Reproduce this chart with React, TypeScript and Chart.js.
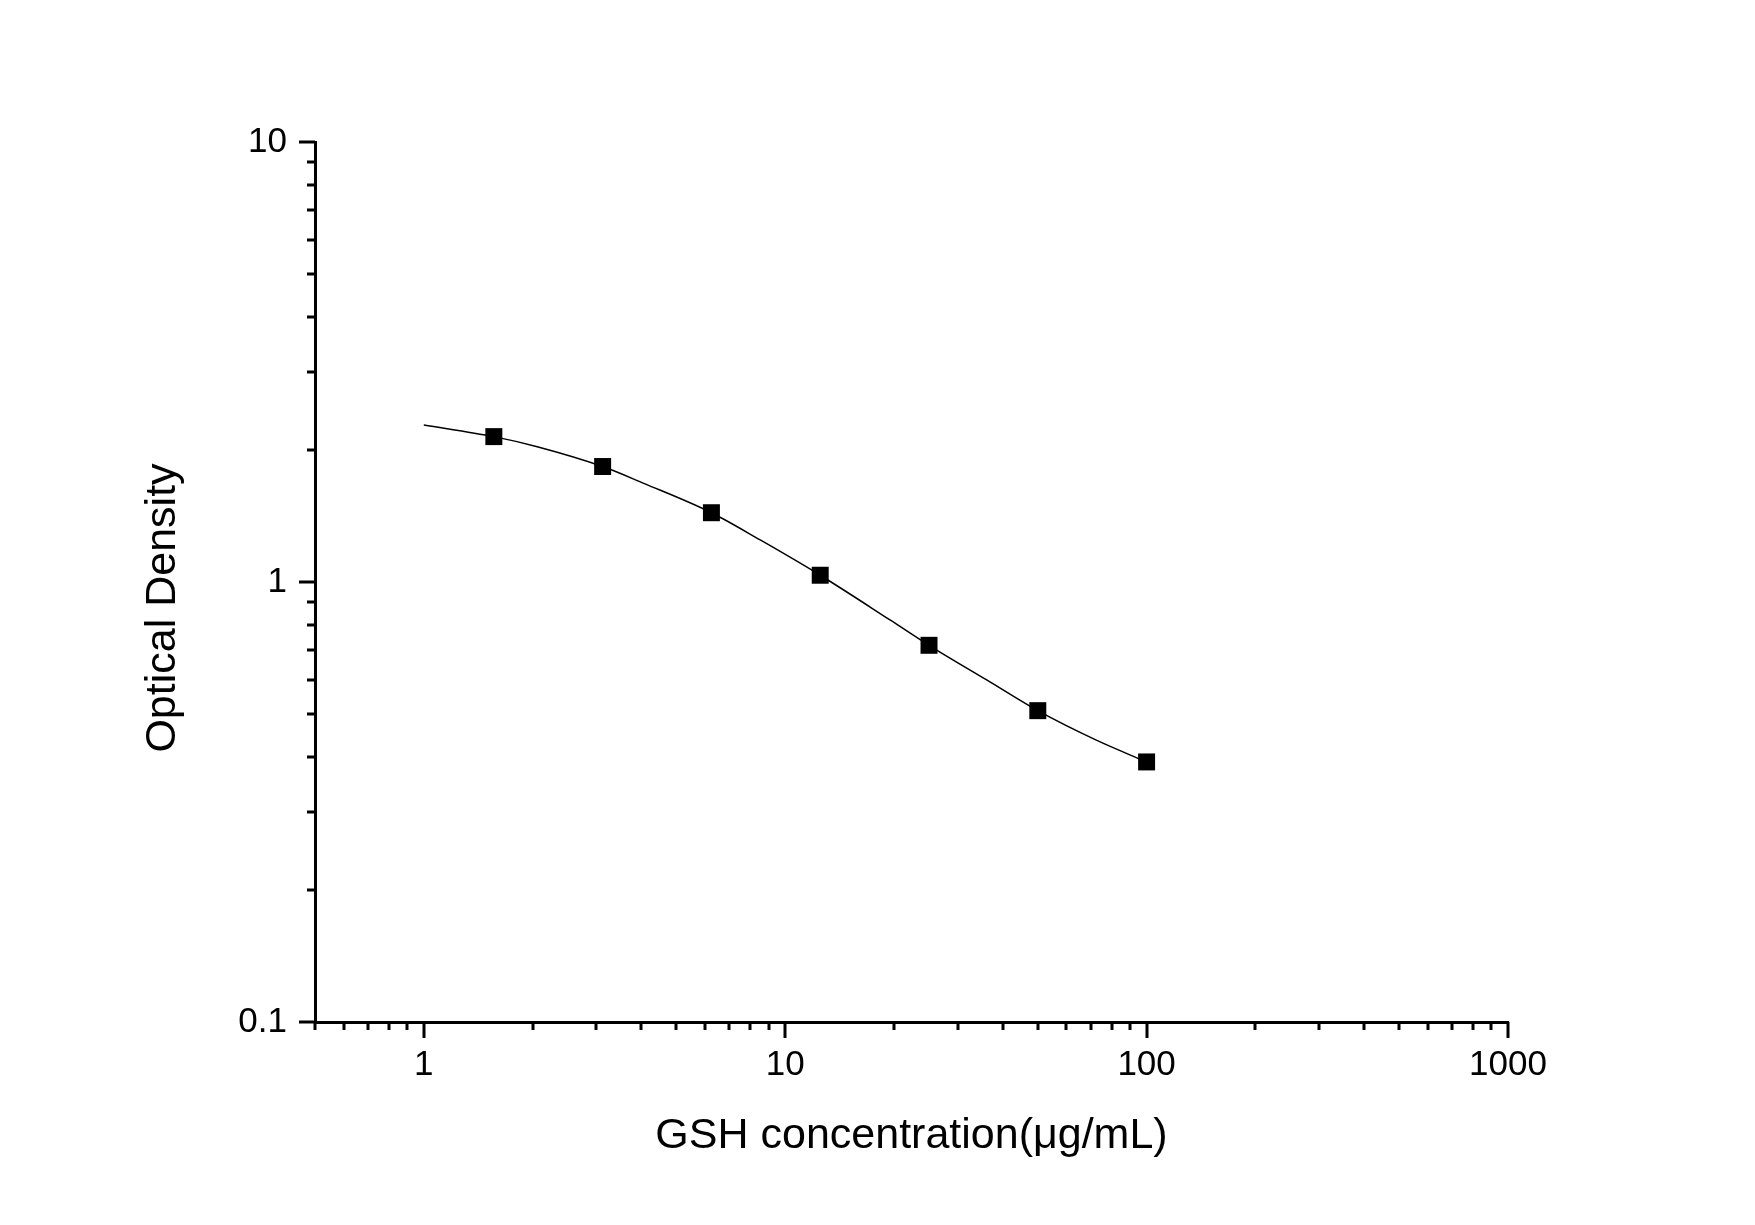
import { useEffect, useRef } from "react";
import { Chart, registerables, type ChartConfiguration, type Plugin } from "chart.js";

Chart.register(...registerables);

// standards (µg/mL) and measured optical density
const concentrations = [1.5625, 3.125, 6.25, 12.5, 25, 50, 100];
const opticalDensity = [2.14, 1.83, 1.437, 1.036, 0.718, 0.51, 0.39];

// fitted curve
const fitConc = [1, 1.5625, 2.06, 3.125, 4.06, 6.25, 8.53, 12.5, 19.5, 25, 36.1, 50, 72.6, 100];
const fitOD = [2.275, 2.14, 2.03, 1.83, 1.676, 1.437, 1.246, 1.036, 0.82, 0.718, 0.599, 0.51, 0.437, 0.39];

// axis ticks
const xDecades = [1, 10, 100, 1000];
const yDecades = [0.1, 1, 10];
const xMinorStart = [0.5, 0.6, 0.7, 0.8, 0.9];
const minorSteps = [2, 3, 4, 5, 6, 7, 8, 9];

const xTitle = "GSH concentration(μg/mL)";
const yTitle = "Optical Density";

const FONT = "'Liberation Sans', Arial, sans-serif";
const MAJOR_LEN = 16;
const MINOR_LEN = 8;

const isDecade = (v: number) => Math.abs(Math.log10(v) - Math.round(Math.log10(v))) < 1e-9;

function tickValues(decades: number[], lead: number[]) {
  const out = [...lead];
  decades.forEach((d, i) => {
    out.push(d);
    if (i < decades.length - 1) minorSteps.forEach((m) => out.push(+(d * m).toPrecision(6)));
  });
  return out;
}

const xTicks = tickValues(xDecades, xMinorStart);
const yTicks = tickValues(yDecades, []);

const tickMarks: Plugin<"scatter"> = {
  id: "tickMarks",
  afterDraw(chart) {
    const { ctx, chartArea } = chart;
    const xs = chart.scales.x;
    const ys = chart.scales.y;
    ctx.save();
    ctx.strokeStyle = "#000";
    ctx.lineWidth = 3;
    ctx.beginPath();
    xs.ticks.forEach((t) => {
      const px = Math.round(xs.getPixelForValue(t.value));
      const len = isDecade(t.value) ? MAJOR_LEN : MINOR_LEN;
      ctx.moveTo(px, chartArea.bottom);
      ctx.lineTo(px, chartArea.bottom + len);
    });
    ys.ticks.forEach((t) => {
      const py = Math.round(ys.getPixelForValue(t.value));
      const len = isDecade(t.value) ? MAJOR_LEN : MINOR_LEN;
      ctx.moveTo(chartArea.left, py);
      ctx.lineTo(chartArea.left - len, py);
    });
    ctx.stroke();

    // y title sits a little below the middle of the axis, as in the original
    ctx.fillStyle = "#000";
    ctx.font = `43px ${FONT}`;
    ctx.textAlign = "center";
    ctx.textBaseline = "middle";
    ctx.translate(163, (chartArea.top + chartArea.bottom) / 2 + 26);
    ctx.rotate(-Math.PI / 2);
    ctx.fillText(yTitle, 0, 0);
    ctx.restore();
  },
};

export default function App() {
  const canvasRef = useRef<HTMLCanvasElement>(null);

  useEffect(() => {
    document.body.style.margin = "0";
    const canvas = canvasRef.current;
    if (!canvas) return;

    const config: ChartConfiguration<"scatter"> = {
      type: "scatter",
      data: {
        datasets: [
          {
            data: fitConc.map((x, i) => ({ x, y: fitOD[i] })),
            showLine: true,
            borderColor: "#000",
            borderWidth: 1.5,
            pointRadius: 0,
            cubicInterpolationMode: "monotone",
          },
          {
            data: concentrations.map((x, i) => ({ x, y: opticalDensity[i] })),
            pointStyle: "rect",
            pointRadius: 12,
            backgroundColor: "#000",
            borderColor: "#000",
            borderWidth: 0,
          },
        ],
      },
      options: {
        responsive: false,
        animation: false,
        layout: { padding: { left: 138, top: 142, right: 247, bottom: 63 } },
        plugins: { legend: { display: false }, tooltip: { enabled: false } },
        scales: {
          x: {
            type: "logarithmic",
            min: 0.5,
            max: 1000,
            afterBuildTicks: (s) => {
              s.ticks = xTicks.map((value) => ({ value }));
            },
            afterFit: (s) => {
              s.height = 140;
            },
            grid: { display: false },
            border: { display: true, color: "#000", width: 3 },
            ticks: {
              autoSkip: false,
              maxRotation: 0,
              padding: 14,
              color: "#000",
              font: { family: FONT, size: 35 },
              callback: (v) => (isDecade(Number(v)) ? String(Number(v)) : ""),
            },
            title: {
              display: true,
              text: xTitle,
              color: "#000",
              padding: 0,
              font: { family: FONT, size: 43 },
            },
          },
          y: {
            type: "logarithmic",
            min: 0.1,
            max: 10,
            afterBuildTicks: (s) => {
              s.ticks = yTicks.map((value) => ({ value }));
            },
            afterFit: (s) => {
              s.width = 177;
            },
            grid: { display: false },
            border: { display: true, color: "#000", width: 3 },
            ticks: {
              autoSkip: false,
              padding: 20,
              color: "#000",
              font: { family: FONT, size: 35 },
              callback: (v) => (isDecade(Number(v)) ? String(Number(v)) : ""),
            },
            title: { display: false },
          },
        },
      },
      plugins: [tickMarks],
    };

    const chart = new Chart(canvas, config);
    return () => chart.destroy();
  }, []);

  return (
    <div style={{ width: 1755, height: 1225, background: "#fff" }}>
      <canvas ref={canvasRef} width={1755} height={1225} />
    </div>
  );
}
